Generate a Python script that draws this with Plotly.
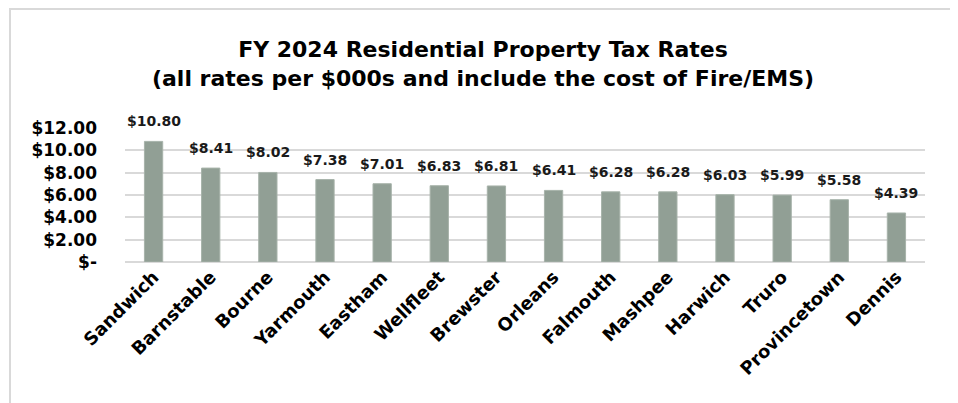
import plotly.graph_objects as go

towns = ["Sandwich", "Barnstable", "Bourne", "Yarmouth", "Eastham", "Wellfleet", "Brewster",
         "Orleans", "Falmouth", "Mashpee", "Harwich", "Truro", "Provincetown", "Dennis"]
rates = [10.80, 8.41, 8.02, 7.38, 7.01, 6.83, 6.81, 6.41, 6.28, 6.28, 6.03, 5.99, 5.58, 4.39]
y_tickvals = [0, 2, 4, 6, 8, 10, 12]
y_ticktext = ["$-", "$2.00", "$4.00", "$6.00", "$8.00", "$10.00", "$12.00"]

FONT = "DejaVu Sans"
W, H = 958, 403
OFF = 8  # page body margin offset
L, R, T, B = 125 - OFF, W - (925 - OFF), 128 - OFF, H - (262 - OFF)
pw, ph = W - L - R, H - T - B

def px_x(x):
    return (x - OFF - L) / pw

def px_y(y):
    return (H - B - (y - OFF)) / ph

fig = go.Figure(go.Bar(
    x=towns, y=rates,
    marker=dict(color="#919F95", line=dict(color="#A7B3AA", width=1)),
    width=0.32,
    cliponaxis=False,
))

for t, v in zip(towns, rates):
    fig.add_annotation(
        x=t, y=v, xref="x", yref="y", text=f"${v:.2f}", showarrow=False,
        yanchor="middle", yshift=20,
        font=dict(family=FONT, size=14, color="#1A1A1A", weight=600),
    )

fig.update_layout(
    width=W, height=H,
    margin=dict(l=L, r=R, t=T, b=B),
    plot_bgcolor="white", paper_bgcolor="white",
    showlegend=False,
    font=dict(family=FONT, color="#000000"),
    title=dict(
        text="<b>FY 2024 Residential Property Tax Rates</b><br><b>(all rates per $000s and include the cost of Fire/EMS)</b>",
        x=(483 - OFF) / W, xanchor="center", y=1 - (57 - OFF) / H, yanchor="middle",
        font=dict(family=FONT, size=22, color="#000000"),
    ),
    yaxis=dict(
        range=[0, 12], tickvals=y_tickvals, ticktext=y_ticktext,
        showgrid=True, gridcolor="#D9D9D9", gridwidth=2,
        zeroline=True, zerolinecolor="#D9D9D9", zerolinewidth=2,
        tickfont=dict(family=FONT, size=17, color="#000000", weight="bold"),
        ticks="", ticklabelstandoff=27,
    ),
    xaxis=dict(
        tickangle=-45, ticks="", showline=False,
        tickfont=dict(family=FONT, size=18, color="#000000", weight="bold"),
        range=[-0.5, len(towns) - 0.5],
    ),
    shapes=[dict(
        type="rect", xref="paper", yref="paper",
        x0=px_x(10), x1=px_x(953), y0=px_y(9), y1=px_y(420),
        line=dict(color="#D9D9D9", width=2), fillcolor="rgba(0,0,0,0)", layer="below",
    )],
)

fig.write_html("out.html")
